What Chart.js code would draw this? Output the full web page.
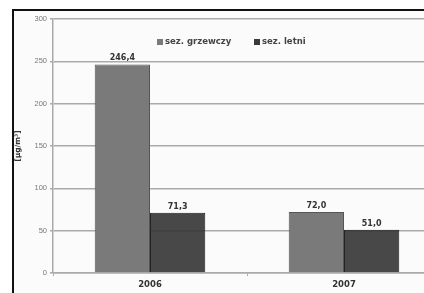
<!DOCTYPE html>
<html>
<head>
<meta charset="utf-8">
<script src="https://cdn.jsdelivr.net/npm/chart.js@4/dist/chart.umd.min.js"></script>
<style>
  html, body { margin: 0; padding: 0; background: #fff; overflow: hidden; width: 424px; height: 293px; }
  #ramka {
    position: absolute; left: 12px; top: 9px; width: 460px; height: 320px;
    border-left: 2px solid #111; border-top: 2px solid #111; background: #fbfbfb;
  }
  #wykres { position: absolute; left: 0; top: 0; }
</style>
</head>
<body>
<div id="ramka"><canvas id="wykres" width="440" height="282"></canvas></div>
<script>
// dane
const lata = ["2006", "2007"];
const sezonGrzewczy = [246.4, 72.0];
const sezonLetni = [71.3, 51.0];
const serie = ["sez. grzewczy", "sez. letni"];
const kolory = ["#7a7a7a", "rgba(52,52,52,0.9)"];

const fontTekst = "'DejaVu Sans', Verdana, sans-serif";

const fmt = v => v.toFixed(1).replace(".", ",");

// etykiety wartosci nad slupkami
const etykietyPlugin = {
  id: "etykiety",
  afterDatasetsDraw(chart) {
    const ctx = chart.ctx;
    ctx.save();
    ctx.font = "bold 8px " + fontTekst;
    ctx.fillStyle = "#333";
    ctx.textAlign = "center";
    ctx.textBaseline = "bottom";
    chart.data.datasets.forEach((ds, i) => {
      chart.getDatasetMeta(i).data.forEach((bar, j) => {
        ctx.fillText(fmt(ds.data[j]), bar.x, bar.y - 2);
      });
    });
    ctx.restore();
  }
};

// legenda wewnatrz obszaru wykresu
const legendaPlugin = {
  id: "legenda",
  afterDraw(chart) {
    const ctx = chart.ctx;
    const a = chart.chartArea;
    ctx.save();
    ctx.font = "bold 8.5px " + fontTekst;
    ctx.textBaseline = "middle";
    let x = a.left + 104;
    const y = a.top + 23;
    serie.forEach((nazwa, i) => {
      ctx.fillStyle = i === 0 ? "#7a7a7a" : "#3a3a3a";
      ctx.fillRect(x, y - 3, 6, 6);
      ctx.fillStyle = "#444";
      ctx.fillText(nazwa, x + 8, y);
      x += 97;
    });
    ctx.restore();
  }
};

new Chart(document.getElementById("wykres"), {
  type: "bar",
  data: {
    labels: lata,
    datasets: [
      { label: serie[0], data: sezonGrzewczy, backgroundColor: kolory[0], borderColor: "#555", borderWidth: 1 },
      { label: serie[1], data: sezonLetni, backgroundColor: kolory[1], borderColor: "#222", borderWidth: 1 }
    ]
  },
  options: {
    responsive: false,
    animation: false,
    layout: { padding: { top: 8, right: 13, left: 0, bottom: 0 } },
    datasets: { bar: { barPercentage: 1, categoryPercentage: 0.57 } },
    plugins: { legend: { display: false }, tooltip: { enabled: false } },
    scales: {
      x: {
        offset: true,
        afterFit: s => { s.height = 20; },
        border: { color: "#aaa", width: 1.5 },
        grid: { drawOnChartArea: false, drawTicks: true, tickLength: 3, color: "#aaa", offset: true },
        ticks: { color: "#333", padding: 4, font: { family: fontTekst, size: 8.5, weight: "bold" } }
      },
      y: {
        min: 0,
        max: 300,
        afterFit: s => { s.width = 39; },
        border: { color: "#aaa", width: 1.5 },
        grid: { color: "#aaa", lineWidth: 1.5, tickLength: 3 },
        ticks: { stepSize: 50, color: "#777", padding: 3, font: { family: "'Liberation Sans', Arial, sans-serif", size: 7.5 } },
        title: { display: true, text: "[µg/m³]", color: "#333", padding: 0, font: { family: fontTekst, size: 7.5, weight: "bold" } }
      }
    }
  },
  plugins: [etykietyPlugin, legendaPlugin]
});
</script>
</body>
</html>
